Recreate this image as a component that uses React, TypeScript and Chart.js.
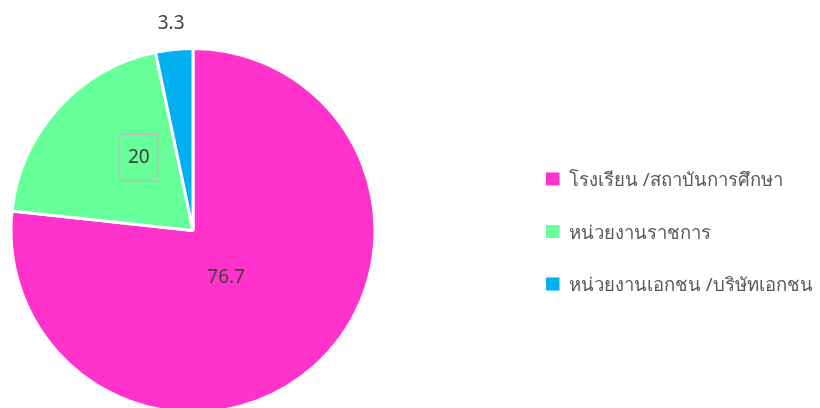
import React, { useEffect, useRef } from "react";
import { Chart, registerables } from "chart.js";

Chart.register(...registerables);

const categories = [
  "โรงเรียน /สถาบันการศึกษา",
  "หน่วยงานราชการ",
  "หน่วยงานเอกชน /บริษัทเอกชน",
];
const values = [76.7, 20, 3.3];
const valueLabels = ["76.7", "20", "3.3"];
const colors = ["#FF33CC", "#66FF99", "#00B0F0"];

const FONT = "'Noto Sans', 'DejaVu Sans', sans-serif";

// label placement relative to the pie centre, as fractions of the radius
const labelOffsets = [
  [0.182, 0.26],
  [-0.298, -0.40],
  [-0.12, -1.138],
];

const labelPlugin = {
  id: "customLabels",
  afterDraw(chart: any) {
    const ctx = chart.ctx;
    const meta = chart.getDatasetMeta(0);
    ctx.save();
    ctx.font = `19px ${FONT}`;
    ctx.textAlign = "center";
    ctx.textBaseline = "middle";
    meta.data.forEach((arc: any, i: number) => {
      const { x, y, outerRadius } = arc.getProps(["x", "y", "outerRadius"], true);
      const lx = x + labelOffsets[i][0] * outerRadius;
      const ly = y + labelOffsets[i][1] * outerRadius;
      if (i === 1) {
        ctx.strokeStyle = "#BFBFBF";
        ctx.lineWidth = 1.5;
        ctx.strokeRect(lx - 19, ly - 23.5, 38, 47);
      }
      ctx.fillStyle = "#404040";
      ctx.fillText(valueLabels[i], lx, ly);
    });
    // legend
    ctx.font = `18.5px ${FONT}`;
    ctx.textAlign = "left";
    ctx.textBaseline = "alphabetic";
    const ys = [179, 231.5, 284];
    categories.forEach((c, i) => {
      ctx.fillStyle = colors[i];
      ctx.fillRect(546, ys[i] - 6.5, 13.5, 13);
      ctx.fillStyle = "#595959";
      ctx.fillText(c, 569, ys[i] + 7);
    });
    ctx.restore();
  },
};

export default function App() {
  const ref = useRef<HTMLCanvasElement>(null);
  useEffect(() => {
    const chart = new Chart(ref.current!, {
      type: "pie",
      data: {
        labels: categories,
        datasets: [
          {
            data: values,
            backgroundColor: colors,
            borderColor: "#FFFFFF",
            borderWidth: 3,
          },
        ],
      },
      options: {
        animation: false,
        responsive: false,
        maintainAspectRatio: false,
        layout: { padding: { left: 9, top: 47, bottom: 46, right: 443 } },
        plugins: { legend: { display: false }, tooltip: { enabled: false } },
      },
      plugins: [labelPlugin],
    });
    return () => chart.destroy();
  }, []);
  return (
    <div style={{ position: "fixed", left: 0, top: 0, width: 820, height: 460, background: "#fff" }}>
      <canvas ref={ref} width={820} height={460} style={{ width: 820, height: 460 }} />
    </div>
  );
}
